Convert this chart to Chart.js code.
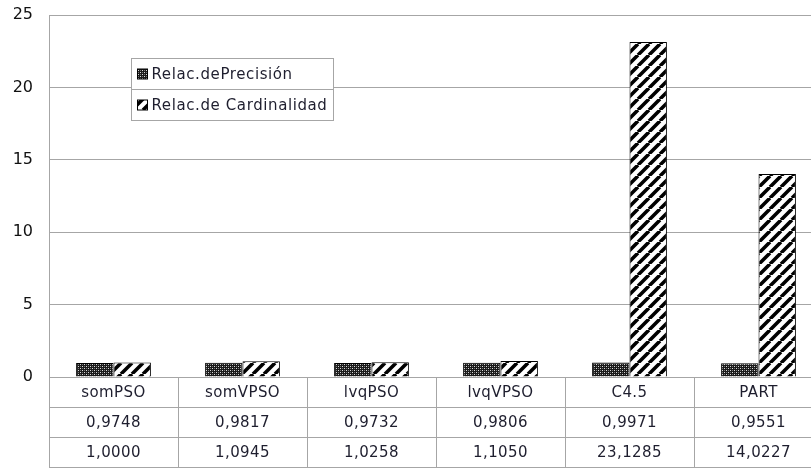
<!DOCTYPE html>
<html>
<head>
<meta charset="utf-8">
<script src="https://cdn.jsdelivr.net/npm/chart.js@4"></script>
<style>
  html, body { margin: 0; padding: 0; background: #fff; overflow: hidden; }
  #wrap { width: 811px; height: 469px; overflow: hidden; }
</style>
</head>
<body>
<div id="wrap"><canvas id="chart" width="830" height="469"></canvas></div>
<script>
const categories = ['somPSO', 'somVPSO', 'lvqPSO', 'lvqVPSO', 'C4.5', 'PART'];
const precision = [0.9748, 0.9817, 0.9732, 0.9806, 0.9971, 0.9551];
const cardinality = [1.0000, 1.0945, 1.0258, 1.1050, 23.1285, 14.0227];
const seriesLabels = ['Relac.dePrecisión', 'Relac.de Cardinalidad'];
const yTicks = [0, 5, 10, 15, 20, 25];

const fontFamily = '"DejaVu Sans", sans-serif';
const gridColor = '#a6a6a6';

function fmt(v) {
  return v.toFixed(4).replace('.', ',');
}

// crosshatch fill (dark, dotted)
function makeCheck() {
  const c = document.createElement('canvas');
  c.width = 4; c.height = 4;
  const g = c.getContext('2d');
  g.fillStyle = '#1a1a1a';
  g.fillRect(0, 0, 4, 4);
  g.fillStyle = '#d8d8d8';
  g.fillRect(0, 0, 1, 1);
  g.fillRect(2, 2, 1, 1);
  g.fillStyle = '#777';
  g.fillRect(2, 0, 1, 1);
  g.fillRect(0, 2, 1, 1);
  return c;
}

// diagonal stripes "/"
function makeStripe() {
  const s = 11;
  const c = document.createElement('canvas');
  c.width = s; c.height = s;
  const g = c.getContext('2d');
  g.fillStyle = '#fff';
  g.fillRect(0, 0, s, s);
  g.strokeStyle = '#000';
  g.lineWidth = 3.6;
  g.beginPath();
  for (let k = -1; k <= 1; k++) {
    g.moveTo(k * s, s);
    g.lineTo(k * s + s, 0);
  }
  g.stroke();
  return c;
}

const tmp = document.createElement('canvas').getContext('2d');
const checkPattern = tmp.createPattern(makeCheck(), 'repeat');
const stripePattern = tmp.createPattern(makeStripe(), 'repeat');

const tablePlugin = {
  id: 'dataTable',
  afterDraw(chart) {
    const ctx = chart.ctx;
    const area = chart.chartArea;
    const x = chart.scales.x;
    const n = categories.length;
    const cw = (area.right - area.left) / n;
    const rowH = 30;
    const top = area.bottom;
    ctx.save();
    ctx.strokeStyle = gridColor;
    ctx.lineWidth = 1;
    ctx.beginPath();
    for (let r = 0; r <= 3; r++) {
      const yy = Math.round(top + r * rowH) + 0.5;
      ctx.moveTo(area.left, yy);
      ctx.lineTo(area.right, yy);
    }
    for (let i = 0; i <= n; i++) {
      const xx = Math.round(area.left + i * cw) + 0.5;
      ctx.moveTo(xx, top);
      ctx.lineTo(xx, top + 3 * rowH);
    }
    // left axis line
    ctx.moveTo(Math.round(area.left) + 0.5, area.top);
    ctx.lineTo(Math.round(area.left) + 0.5, top + 3 * rowH);
    ctx.stroke();

    ctx.fillStyle = '#1e1e2e';
    ctx.font = '15px ' + fontFamily;
    ctx.letterSpacing = '0.4px';
    ctx.textAlign = 'center';
    ctx.textBaseline = 'middle';
    const rows = [categories, precision.map(fmt), cardinality.map(fmt)];
    rows.forEach((row, r) => {
      row.forEach((t, i) => {
        ctx.fillText(t, x.getPixelForValue(i), top + r * rowH + rowH / 2 + 1);
      });
    });
    ctx.restore();
  }
};

const legendPlugin = {
  id: 'boxLegend',
  afterDraw(chart) {
    const ctx = chart.ctx;
    const bx = 131.5, by = 58.5, bw = 202, bh = 62;
    ctx.save();
    ctx.fillStyle = '#fff';
    ctx.fillRect(bx, by, bw, bh);
    ctx.strokeStyle = gridColor;
    ctx.lineWidth = 1;
    ctx.strokeRect(bx, by, bw, bh);
    ctx.beginPath();
    ctx.moveTo(bx, by + 31);
    ctx.lineTo(bx + bw, by + 31);
    ctx.stroke();
    ctx.font = '15px ' + fontFamily;
    ctx.letterSpacing = '0.6px';
    ctx.textBaseline = 'middle';
    chart.data.datasets.forEach((ds, i) => {
      const cy = by + 15.5 + i * 31;
      ctx.fillStyle = ds.backgroundColor;
      ctx.fillRect(bx + 6, cy - 5, 10, 10);
      ctx.strokeStyle = '#000';
      ctx.strokeRect(bx + 6, cy - 5, 10, 10);
      ctx.fillStyle = '#1e1e2e';
      ctx.fillText(ds.label, bx + 20, cy + 1);
    });
    ctx.restore();
  }
};

new Chart(document.getElementById('chart'), {
  type: 'bar',
  data: {
    labels: categories,
    datasets: [
      {
        label: seriesLabels[0],
        data: precision,
        backgroundColor: checkPattern,
        borderColor: '#000',
        borderWidth: 1,
        borderSkipped: 'bottom'
      },
      {
        label: seriesLabels[1],
        data: cardinality,
        backgroundColor: stripePattern,
        borderColor: '#000',
        borderWidth: 1,
        borderSkipped: 'bottom'
      }
    ]
  },
  options: {
    responsive: false,
    animation: false,
    layout: { padding: { top: 15, bottom: 92, left: 0, right: 7 } },
    datasets: { bar: { categoryPercentage: 0.58, barPercentage: 1 } },
    plugins: {
      legend: { display: false },
      tooltip: { enabled: false }
    },
    scales: {
      x: { display: false },
      y: {
        min: 0,
        max: 25,
        afterFit(scale) {
          scale.width = 49;
          scale.paddingTop = 0;
          scale.paddingBottom = 0;
        },
        afterBuildTicks(scale) { scale.ticks = yTicks.map(v => ({ value: v })); },
        border: { display: false },
        grid: { color: gridColor, drawTicks: false },
        ticks: {
          padding: 16,
          color: '#111',
          font: { family: fontFamily, size: 16 }
        }
      }
    }
  },
  plugins: [tablePlugin, legendPlugin]
});
</script>
</body>
</html>
